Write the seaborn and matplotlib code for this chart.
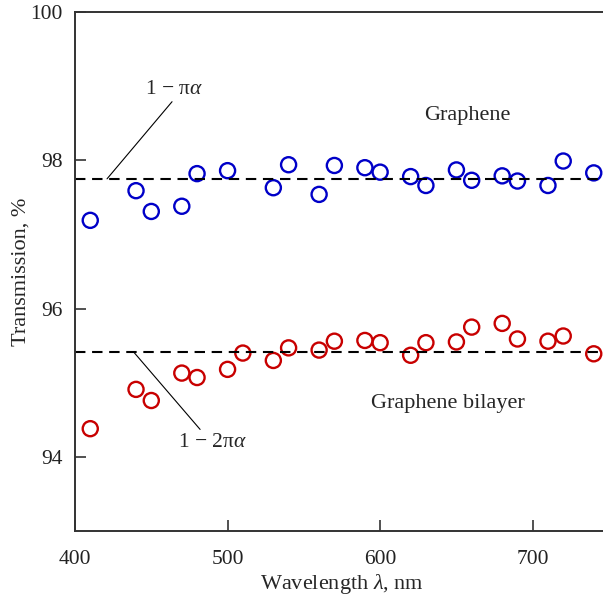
import numpy as np
import pandas as pd
import matplotlib
matplotlib.use("Agg")
import matplotlib.pyplot as plt
import seaborn as sns

# graphene (single layer) transmission
wl_mono = [410, 440, 450, 470, 480, 500, 530, 540, 560, 570, 590,
           600, 620, 630, 650, 660, 680, 690, 710, 720, 740]
t_mono = [97.19, 97.59, 97.31, 97.38, 97.82, 97.86, 97.63, 97.94, 97.54, 97.93, 97.90,
          97.84, 97.78, 97.66, 97.87, 97.73, 97.79, 97.72, 97.66, 97.99, 97.83]

# bilayer transmission
wl_bi = [410, 440, 450, 470, 480, 500, 510, 530, 540, 560, 570,
         590, 600, 620, 630, 650, 660, 680, 690, 710, 720, 740]
t_bi = [94.38, 94.91, 94.76, 95.13, 95.07, 95.18, 95.40, 95.30, 95.47, 95.44, 95.56,
        95.57, 95.54, 95.37, 95.54, 95.55, 95.75, 95.80, 95.59, 95.56, 95.63, 95.39]

# theory levels 1 - pi*alpha, 1 - 2 pi*alpha
level_mono = 97.75
level_bi = 95.42

sns.set_style("ticks")
plt.rcParams["font.family"] = ["Liberation Serif", "DejaVu Serif"]
plt.rcParams["mathtext.fontset"] = "custom"
plt.rcParams["mathtext.rm"] = "Liberation Serif"
plt.rcParams["mathtext.it"] = "Liberation Serif:italic"

fig = plt.figure(figsize=(6.03, 6.01), dpi=100)
ax = fig.add_axes([75 / 603, 70 / 601, 534 / 603, 519 / 601])

blue = "#0000c8"
red = "#c80000"

for wl, t, col in [(wl_mono, t_mono, blue), (wl_bi, t_bi, red)]:
    df = pd.DataFrame({"wavelength": wl, "transmission": t})
    sns.scatterplot(data=df, x="wavelength", y="transmission", ax=ax,
                    marker="o", s=118, color=col, linewidth=1.7)
    pts = ax.collections[-1]
    pts.set_facecolor("none")
    pts.set_edgecolor(col)
    pts.set_linewidth(1.7)

for lev in (level_mono, level_bi):
    ax.axhline(lev, color="black", lw=1.5, ls=(0, (5, 3.2)), zorder=1)

ax.set_xlim(400, 750)
ax.set_ylim(93, 100)
ax.set_xticks([400, 500, 600, 700])
ax.set_yticks([94, 96, 98, 100])
ax.tick_params(direction="in", length=8, width=1.1, labelsize=15.5, colors="#222222")
ax.tick_params(axis="x", pad=14)
ax.tick_params(axis="y", pad=9)
for side in ["left", "bottom", "top"]:
    ax.spines[side].set_linewidth(1.4)
    ax.spines[side].set_color("#333333")
ax.spines["right"].set_visible(False)

ax.set_xlabel(r"Wavelength $\lambda$, nm", fontsize=16, labelpad=2)
ax.set_ylabel("Transmission, %", fontsize=16, labelpad=0)

# leader lines and labels for the theory levels
ax.annotate("", xy=(421, level_mono), xytext=(463.6, 98.79),
            arrowprops=dict(arrowstyle="-", color="black", lw=0.8,
                            shrinkA=0, shrinkB=0))
ax.text(465, 98.96, "1 − π$\\alpha$", fontsize=15.5, ha="center", va="center")
ax.annotate("", xy=(438.2, level_bi), xytext=(482, 94.37),
            arrowprops=dict(arrowstyle="-", color="black", lw=0.8,
                            shrinkA=0, shrinkB=0))
ax.text(490, 94.2, "1 − 2π$\\alpha$", fontsize=15.5, ha="center", va="center")

ax.text(657, 98.61, "Graphene", fontsize=16, ha="center", va="center")
ax.text(644.5, 94.72, "Graphene bilayer", fontsize=16, ha="center", va="center")

fig.savefig("out.png", dpi=100)
